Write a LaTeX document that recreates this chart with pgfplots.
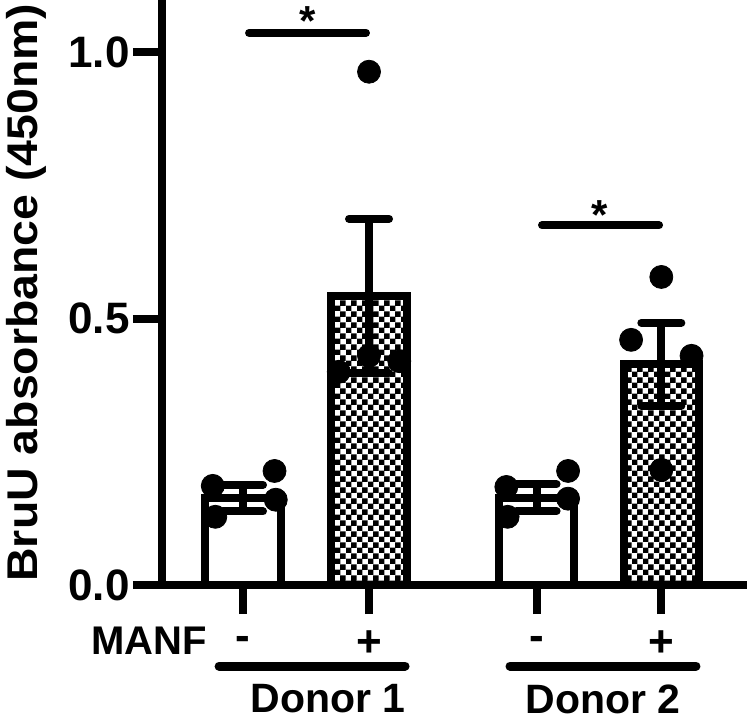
\documentclass[border=0pt]{standalone}
\usepackage{fontspec}
\setmainfont{Liberation Sans}
\newfontfamily\ylabfont{Liberation Sans}[FakeStretch=1.08]
\usepackage{pgfplots}
\pgfplotsset{compat=1.18}
\usetikzlibrary{patterns}
\pgfdeclarepatternformonly{bigcheck}{\pgfpointorigin}{\pgfqpoint{5.6pt}{5.6pt}}{\pgfqpoint{5.6pt}{5.6pt}}{%
  \pgfpathrectangle{\pgfpointorigin}{\pgfqpoint{2.85pt}{2.85pt}}%
  \pgfpathrectangle{\pgfqpoint{2.8pt}{2.8pt}}{\pgfqpoint{2.85pt}{2.85pt}}%
  \pgfusepath{fill}}
\begin{document}
\begin{tikzpicture}
\path[use as bounding box] (-81pt,-67.5pt) rectangle (292.5pt,292.5pt);
\begin{axis}[
  at={(0,0)}, anchor=south west,
  scale only axis, width=292.5pt, height=292.5pt,
  xmin=0.357, xmax=5.0, ymin=0, ymax=1.0976,
  axis x line*=bottom, axis y line*=left,
  axis line style={line width=4pt, -},
  clip=false,
  xtick={1,2,3.33,4.32}, xticklabels={},
  ytick={0,0.5,1.0},
  yticklabel style={/pgf/number format/fixed, /pgf/number format/fixed zerofill,
     /pgf/number format/precision=1, /pgf/number format/assume math mode=true,
     inner sep=1.5pt},
  tick label style={font=\fontsize{22}{24}\selectfont\bfseries},
  tick style={line width=4pt, black},
  tick align=outside,
  major tick length=14.5pt,
]
% white bars (MANF -)
\addplot[ybar, bar shift=0pt, bar width=0.6, draw=black, line width=4pt, fill=white,
  error bars/.cd, y dir=both, y explicit,
  error bar style={line width=4pt, black},
  error mark options={rotate=90, mark size=10pt, line width=4pt, line cap=round, black}]
  coordinates {(1,0.163) +- (0,0.025) (3.33,0.164) +- (0,0.025)};
% checkered bars (MANF +)
\addplot[ybar, bar shift=0pt, bar width=0.6, draw=black, line width=4pt, pattern=bigcheck, pattern color=black,
  error bars/.cd, y dir=both, y explicit,
  error bar style={line width=4pt, black},
  error mark options={rotate=90, mark size=10pt, line width=4pt, line cap=round, black}]
  coordinates {(2,0.542) +- (0,0.145) (4.32,0.414) +- (0,0.078)};
% individual points
\addplot[only marks, mark=*, mark size=5.75pt, black] coordinates {
  (0.76,0.186) (1.25,0.214) (1.26,0.160) (0.78,0.128)
  (1.76,0.40) (2,0.43) (2.24,0.42) (2,0.963)
  (3.09,0.184) (3.58,0.214) (3.58,0.162) (3.10,0.128)
  (4.32,0.578) (4.08,0.46) (4.56,0.43) (4.32,0.216)
};
% significance lines
\addplot[line width=4pt, line cap=round, black] coordinates {(1.048,1.036) (1.976,1.036)};
\addplot[line width=4pt, line cap=round, black] coordinates {(3.373,0.675) (4.302,0.675)};
\node[font=\fontsize{21}{21}\selectfont\bfseries] at (axis cs:1.516,1.058) {*};
\node[font=\fontsize{21}{21}\selectfont\bfseries] at (axis cs:3.833,0.695) {*};
% group lines
\addplot[line width=4.5pt, line cap=round, black] coordinates {(0.81,-0.152) (2.286,-0.152)};
\addplot[line width=4.5pt, line cap=round, black] coordinates {(3.119,-0.152) (4.595,-0.152)};
% MANF - / + labels
\node[font=\fontsize{20}{20}\selectfont\bfseries, anchor=east, inner sep=0pt] at (axis cs:0.714,-0.105) {MANF};
\node[font=\fontsize{22}{22}\selectfont\bfseries] at (axis cs:1,-0.109) {-};
\node[font=\fontsize{22}{22}\selectfont\bfseries] at (axis cs:2,-0.109) {+};
\node[font=\fontsize{22}{22}\selectfont\bfseries] at (axis cs:3.33,-0.109) {-};
\node[font=\fontsize{22}{22}\selectfont\bfseries] at (axis cs:4.32,-0.109) {+};
\node[font=\fontsize{20.5}{20.5}\selectfont\bfseries] at (axis cs:1.675,-0.214) {Donor 1};
\node[font=\fontsize{20.5}{20.5}\selectfont\bfseries] at (axis cs:3.86,-0.214) {Donor 2};
\end{axis}
\node[rotate=90, anchor=base, inner sep=0pt, font=\ylabfont\fontsize{21.5}{21.5}\selectfont\bfseries] at (-62pt,146.25pt) {BruU absorbance (450nm)};
\end{tikzpicture}
\end{document}
